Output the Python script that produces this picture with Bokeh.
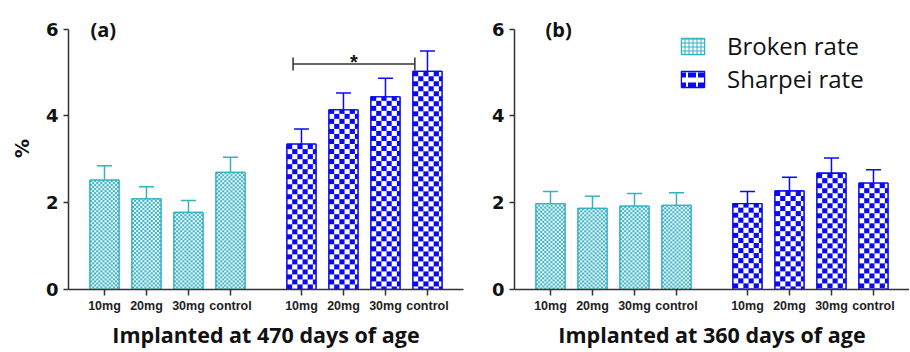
from bokeh.plotting import figure
from bokeh.layouts import row
from bokeh.models import (ColumnDataSource, FixedTicker, Whisker, TeeHead, Label,
                          Legend, LegendItem, Range1d)
from bokeh.embed import file_html
from bokeh.resources import INLINE
import numpy as np

# ---------------- data ----------------
doses = ["10mg", "20mg", "30mg", "control"]
series = ["Broken rate", "Sharpei rate"]

broken_470 = [2.52, 2.09, 1.78, 2.70]
broken_470_err = [0.33, 0.28, 0.27, 0.35]
sharpei_470 = [3.35, 4.14, 4.44, 5.03]
sharpei_470_err = [0.35, 0.39, 0.43, 0.47]

broken_360 = [1.98, 1.87, 1.92, 1.94]
broken_360_err = [0.28, 0.28, 0.29, 0.29]
sharpei_360 = [1.98, 2.27, 2.68, 2.45]
sharpei_360_err = [0.28, 0.32, 0.35, 0.31]

y_ticks = [0, 2, 4, 6]
panel_labels = ["(a)", "(b)"]
x_titles = ["Implanted at 470 days of age", "Implanted at 360 days of age"]
y_title = "%"
signif_text = "*"
signif_y = 5.2

# ---------------- styling ----------------
CYAN = "#33b3c4"
CYAN_RGB = (51, 179, 196)
BLUE = "#0a0af0"
BLUE_RGB = (10, 10, 240)
AXIS = "#333333"
TICK_FONT = "DejaVu Sans"
XTICK_FONT = "Liberation Sans"
TITLE_FONT = "Open Sans"

H = 351
TOP, BOTTOM = 7, 62
X0, X1 = -0.857, 8.548
Y1 = 6.5
FRAME_W = 395
PX_X = FRAME_W / (X1 - X0)
PX_Y = (H - TOP - BOTTOM) / Y1

group_gap = 1.69
bar_w = 0.69
pos_b = [float(i) for i in range(len(doses))]
pos_s = [round(i + group_gap + len(doses) - 1, 2) for i in range(len(doses))]
all_pos = pos_b + pos_s
overrides = {p_: d for p_, d in zip(all_pos, doses + doses)}


def checker(value, cell, rgb):
    """Checkerboard fill texture sized to one bar (about 1 texel per screen pixel)."""
    w_px = max(1, int(round(bar_w * PX_X)))
    h_px = max(1, int(round(value * PX_Y)))
    yy, xx = np.mgrid[0:h_px, 0:w_px]
    on = ((xx // cell) + ((h_px - 1 - yy) // cell)) % 2 == 0
    img = np.full((h_px, w_px), 0xFFFFFFFF, dtype=np.uint32)
    view = img.view(np.uint8).reshape(h_px, w_px, 4)
    view[on, 0] = rgb[0]
    view[on, 1] = rgb[1]
    view[on, 2] = rgb[2]
    view[on, 3] = 255
    return img


def make_panel(idx, b_vals, b_err, s_vals, s_err, width, left, right, with_ylabel):
    p = figure(width=width, height=H, output_backend="svg", toolbar_location=None,
               x_range=Range1d(X0, X1), y_range=Range1d(0, Y1),
               min_border_left=left, min_border_right=right,
               min_border_top=TOP, min_border_bottom=BOTTOM)
    p.outline_line_color = None
    p.grid.visible = False
    p.background_fill_color = "white"
    p.border_fill_color = "white"

    legend_renderers = []
    for pos, vals, errs, color, rgb, cell, hatch in (
            (pos_b, b_vals, b_err, CYAN, CYAN_RGB, 2, dict(hatch_pattern="cross", hatch_scale=4, hatch_weight=1)),
            (pos_s, s_vals, s_err, BLUE, BLUE_RGB, 5, dict(hatch_pattern="horizontal_dash", hatch_scale=10, hatch_weight=5))):
        src = ColumnDataSource(dict(
            x=pos, top=vals,
            upper=[v + e for v, e in zip(vals, errs)],
            left=[x - bar_w / 2 for x in pos],
            zero=[0.0] * len(pos),
            w=[bar_w] * len(pos),
            img=[checker(v, cell, rgb) for v in vals]))
        # hatched bar (also provides the legend swatch)
        r_leg = p.vbar(x="x", top="top", width=bar_w, source=src, fill_color="white",
                       line_color=color, line_width=1.3, hatch_color=color, **hatch)
        legend_renderers.append(r_leg)
        # checkerboard texture
        p.image_rgba(image="img", x="left", y="zero", dw="w", dh="top", source=src)
        # outline on top
        p.vbar(x="x", top="top", width=bar_w, source=src, fill_color=None,
               line_color=color, line_width=1.3)
        w = Whisker(source=src, base="x", upper="upper", lower="top", dimension="height",
                    line_color=color, line_width=1.5,
                    upper_head=TeeHead(size=15, line_color=color, line_width=1.5),
                    lower_head=None)
        p.add_layout(w)

    xa = p.xaxis[0]
    xa.ticker = FixedTicker(ticks=all_pos)
    xa.major_label_overrides = overrides
    xa.minor_tick_line_color = None
    xa.major_tick_in = 0
    xa.major_tick_out = 6
    xa.axis_line_color = AXIS
    xa.axis_line_width = 1.5
    xa.major_tick_line_color = AXIS
    xa.major_tick_line_width = 1.5
    xa.major_label_text_font = XTICK_FONT
    xa.major_label_text_font_style = "bold"
    xa.major_label_text_font_size = "12.5px"
    xa.major_label_text_color = "#222222"
    xa.major_label_standoff = 3
    xa.axis_label = x_titles[idx]
    xa.axis_label_text_font = TITLE_FONT
    xa.axis_label_text_font_style = "bold"
    xa.axis_label_text_font_size = "21.5px"
    xa.axis_label_text_color = "#111111"
    xa.axis_label_standoff = 4

    ya = p.yaxis[0]
    ya.ticker = FixedTicker(ticks=y_ticks)
    ya.bounds = (0, 6)
    ya.minor_tick_line_color = None
    ya.major_tick_in = 0
    ya.major_tick_out = 5
    ya.axis_line_color = AXIS
    ya.axis_line_width = 1.5
    ya.major_tick_line_color = AXIS
    ya.major_tick_line_width = 1.5
    ya.major_label_text_font = TICK_FONT
    ya.major_label_text_font_style = "bold"
    ya.major_label_text_font_size = "18px"
    ya.major_label_text_color = "#111111"
    ya.major_label_standoff = 5
    if with_ylabel:
        ya.axis_label = y_title
        ya.axis_label_text_font = TICK_FONT
        ya.axis_label_text_font_style = "bold"
        ya.axis_label_text_font_size = "19px"
        ya.axis_label_text_color = "#111111"
        ya.axis_label_standoff = 10

    lbl_x = -0.333 if idx == 0 else -0.119
    p.add_layout(Label(x=lbl_x, y=6.0, text=panel_labels[idx], text_font=TITLE_FONT,
                       text_font_style="bold", text_font_size="20px",
                       text_color="#111111", text_baseline="alphabetic"))
    return p, legend_renderers


pa, ra = make_panel(0, broken_470, broken_470_err, sharpei_470, sharpei_470_err,
                    470, 68, 7, True)
pb, rb = make_panel(1, broken_360, broken_360_err, sharpei_360, sharpei_360_err,
                    439, 44, 0, False)

# significance bracket in panel (a)
bx0 = pos_s[0] - 0.2
bx1 = pos_s[3] - 0.3
pa.segment(x0=[bx0, bx0, bx1], y0=[signif_y, signif_y - 0.15, signif_y - 0.15],
           x1=[bx1, bx0, bx1], y1=[signif_y, signif_y + 0.15, signif_y + 0.15],
           line_color=AXIS, line_width=1.5)
pa.add_layout(Label(x=(bx0 + bx1) / 2, y=signif_y + 0.04, text=signif_text,
                    text_font="Liberation Sans", text_font_style="bold",
                    text_font_size="20px", text_align="center",
                    text_baseline="middle", text_color="#111111"))

legend = Legend(items=[LegendItem(label=series[0], renderers=[rb[0]]),
                       LegendItem(label=series[1], renderers=[rb[1]])],
                location=(164, 194), orientation="vertical",
                glyph_width=29, glyph_height=20, spacing=0, padding=0,
                label_standoff=20, label_text_font=TITLE_FONT,
                label_text_font_size="24px", label_text_color="#111111",
                border_line_color=None, background_fill_alpha=0)
pb.add_layout(legend)

layout = row(pa, pb)
open("out.html", "w").write(file_html(layout, INLINE))
